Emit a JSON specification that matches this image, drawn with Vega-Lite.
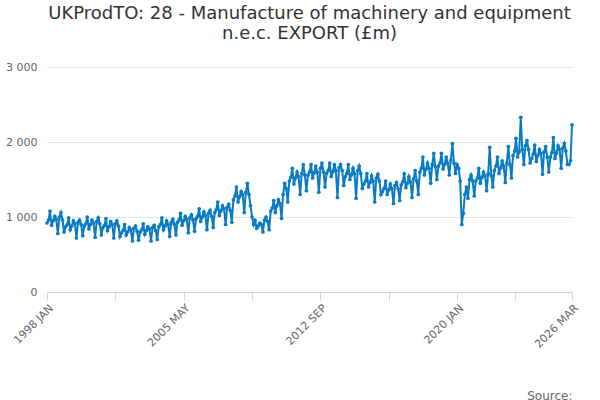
{
"$schema":"https://vega.github.io/schema/vega-lite/v6.json",
"width":525,"height":225,
"padding":{"left":5,"right":18,"top":5,"bottom":0},
"background":"white",
"title":{"text":["UKProdTO: 28 - Manufacture of machinery and equipment","n.e.c. EXPORT (£m)"],"font":"DejaVu Sans","fontSize":18,"fontWeight":"normal","color":"#333333","anchor":"middle","offset":18},
"data":{"values":[
{"y":1998,"v":[920,960,1080,890,950,1010,970,780,1000,1060,960,800]},
{"y":1999,"v":[870,900,990,830,880,950,910,720,930,960,900,750]},
{"y":2000,"v":[880,910,1000,840,900,960,920,730,940,990,910,760]},
{"y":2001,"v":[860,890,980,820,870,940,900,720,910,950,880,740]},
{"y":2002,"v":[790,820,900,760,800,860,830,680,850,880,810,690]},
{"y":2003,"v":[800,830,910,770,820,870,840,680,860,890,820,700]},
{"y":2004,"v":[870,900,990,830,880,950,900,740,930,970,900,760]},
{"y":2005,"v":[930,960,1050,890,950,1010,970,790,990,1030,960,810]},
{"y":2006,"v":[980,1010,1110,940,1000,1070,1020,830,1050,1090,1010,860]},
{"y":2007,"v":[1060,1100,1200,1020,1080,1150,1110,900,1130,1170,1090,930]},
{"y":2008,"v":[1230,1280,1400,1200,1270,1340,1300,1060,1330,1450,1300,1150]},
{"y":2009,"v":[1000,900,960,850,880,920,900,800,960,1000,940,830]},
{"y":2010,"v":[1080,1120,1220,1060,1150,1230,1180,980,1300,1450,1380,1200]},
{"y":2011,"v":[1480,1530,1650,1440,1520,1600,1540,1300,1580,1700,1560,1350]},
{"y":2012,"v":[1560,1600,1700,1520,1590,1680,1600,1330,1650,1720,1600,1400]},
{"y":2013,"v":[1580,1620,1720,1540,1600,1700,1620,1260,1660,1700,1620,1420]},
{"y":2014,"v":[1540,1580,1700,1500,1560,1650,1580,1250,1620,1680,1580,1380]},
{"y":2015,"v":[1440,1480,1580,1400,1460,1550,1480,1200,1520,1570,1480,1300]},
{"y":2016,"v":[1340,1380,1480,1300,1360,1440,1380,1180,1420,1460,1380,1220]},
{"y":2017,"v":[1430,1470,1580,1390,1450,1540,1470,1260,1510,1620,1480,1300]},
{"y":2018,"v":[1600,1650,1800,1560,1640,1720,1650,1450,1700,1850,1670,1500]},
{"y":2019,"v":[1680,1720,1850,1640,1700,1800,1720,1560,1760,1980,1720,1580]},
{"y":2020,"v":[1700,1650,1480,900,1050,1300,1400,1250,1500,1560,1480,1280]},
{"y":2021,"v":[1480,1520,1650,1450,1530,1600,1550,1350,1580,1930,1550,1400]},
{"y":2022,"v":[1620,1680,1800,1580,1650,1750,1680,1460,1720,1940,1700,1520]},
{"y":2023,"v":[1820,1880,2050,1800,1870,2330,1900,1700,1950,2020,1900,1720]},
{"y":2024,"v":[1780,1840,1960,1740,1820,1900,1850,1570,1870,1940,1800,1600]},
{"y":2025,"v":[1800,1860,2060,1780,1850,1950,1900,1650,1920,1980,1880,1700]},
{"y":2026,"v":[1700,1750,2230]}
]},
"transform":[
{"flatten":["v"]},
{"window":[{"op":"row_number","as":"rn"}],"groupby":["y"]},
{"calculate":"datetime(datum.y, datum.rn - 1, 1)","as":"date"},
{"calculate":"'UKProdTO: 28 - Manufacture of machinery and equipment n.e.c. EXPORT (£m)'","as":"series"}
],
"mark":{"type":"line","strokeWidth":2,"point":{"size":14,"filled":true}},
"encoding":{
"x":{"field":"date","type":"temporal","scale":{"domain":[{"year":1998,"month":1,"date":1},{"year":2026,"month":3,"date":1}]},
"axis":{"values":[{"year":1998,"month":1,"date":1},{"year":2001,"month":9,"date":1},{"year":2005,"month":5,"date":1},{"year":2009,"month":1,"date":1},{"year":2012,"month":9,"date":1},{"year":2016,"month":5,"date":1},{"year":2020,"month":1,"date":1},{"year":2023,"month":2,"date":1},{"year":2026,"month":3,"date":1}],
"labelExpr":"indexof(['1998-01','2005-05','2012-09','2020-01','2026-03'], timeFormat(datum.value,'%Y-%m'))>=0 ? upper(timeFormat(datum.value,'%Y %b')) : ''",
"labelAngle":-45,"labelAlign":"right","labelFont":"DejaVu Sans","labelFontSize":11,"labelColor":"#666666","grid":false,"domainColor":"#ccd6eb","tickColor":"#ccd6eb","tickSize":8,
"title":"Source:","titleAnchor":"end","titleFont":"DejaVu Sans","titleFontSize":12,"titleFontWeight":"normal","titleColor":"#666666","titleY":98}},
"y":{"field":"v","type":"quantitative","scale":{"domain":[0,3000]},
"axis":{"values":[0,1000,2000,3000],"labelExpr":"replace(format(datum.value, ','), ',', ' ')","title":null,"domain":false,"ticks":false,"labelFont":"DejaVu Sans","labelFontSize":11,"labelColor":"#666666","gridColor":"#e6e6e6","labelPadding":10}},
"color":{"field":"series","type":"nominal","scale":{"range":["#0a7bc2"]},
"legend":{"orient":"bottom","title":null,"labelFont":"DejaVu Sans","labelFontSize":12,"labelFontWeight":"bold","labelColor":"#333333","labelLimit":600,"symbolType":"stroke","symbolStrokeWidth":2,"offset":8}}
},
"config":{"view":{"stroke":null}}
}
